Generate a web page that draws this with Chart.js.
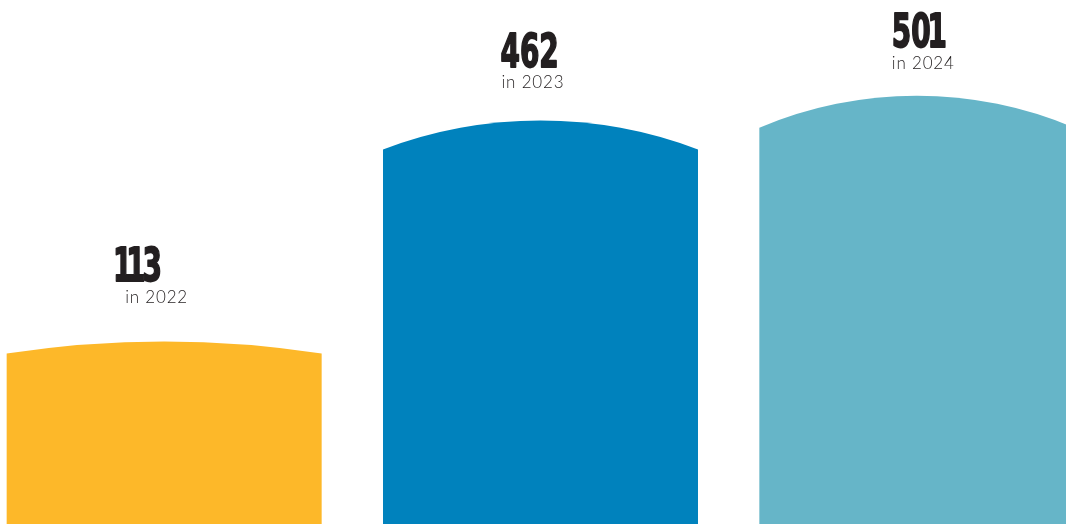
<!DOCTYPE html>
<html>
<head>
<meta charset="utf-8">
<script src="https://cdn.jsdelivr.net/npm/chart.js@4/dist/chart.umd.min.js"></script>
<style>
  html, body { margin: 0; padding: 0; background: #ffffff; overflow: hidden; }
  body { width: 1066px; height: 524px; position: relative; }
  #wrap { position: absolute; left: -24px; top: 0; width: 1129px; height: 524px; }
</style>
</head>
<body>
<div id="wrap"><canvas id="chart"></canvas></div>
<script>
// Yearly totals
const years = ['2022', '2023', '2024'];
const totals = [113, 462, 501];

// Value axis window (bars rise from the bottom edge)
const Y_MIN = -175;
const Y_MAX = 652;

// Look of each column
const barColors = ['#FDB829', '#0082BD', '#66B5C8'];
const archDepth = [12, 29, 32];        // how far the rounded cap bulges, px
const numberDx = [-48, -40, -25];      // label placement relative to column centre
const captionDx = [-39, -39, -25];
const captionLift = [39, 32, 27];      // caption baseline above the cap's crown

const TEXT_COLOR = '#231F20';
const NUM_FONT = 'bold 47px "Liberation Sans Narrow", "DejaVu Sans Condensed", sans-serif';
const NUM_SQUEEZE = 0.66;

// Heavy condensed headline figure; the "1" gets a narrow advance like a display face
function drawFigure(ctx, text, x, y) {
  ctx.save();
  ctx.translate(x, y);
  ctx.scale(NUM_SQUEEZE, 1);
  ctx.font = NUM_FONT;
  ctx.lineWidth = 1.8;
  ctx.lineJoin = 'round';
  ctx.strokeStyle = TEXT_COLOR;
  let cx = 0;
  for (const ch of text) {
    const w = ctx.measureText(ch).width;
    const narrow = ch === '1';
    const shift = narrow ? -w * 0.16 : 0;
    ctx.fillText(ch, cx + shift, 0);
    ctx.strokeText(ch, cx + shift, 0);
    cx += narrow ? w * 0.68 : w;
  }
  ctx.restore();
}

const archedBars = {
  id: 'archedBars',
  beforeDatasetDraw(chart, args) {
    const ctx = chart.ctx;
    const meta = args.meta;
    meta.data.forEach((el, i) => {
      const p = el.getProps(['x', 'y', 'base', 'width'], true);
      const h = p.width / 2;
      const d = archDepth[i];
      const R = (h * h + d * d) / (2 * d);
      const cy = p.y + R;
      const a1 = Math.atan2(d - R, -h);
      const a2 = Math.atan2(d - R, h);
      ctx.save();
      ctx.fillStyle = barColors[i];
      ctx.beginPath();
      ctx.moveTo(p.x - h, p.base);
      ctx.lineTo(p.x - h, p.y + d);
      ctx.arc(p.x, cy, R, a1, a2, false);
      ctx.lineTo(p.x + h, p.base);
      ctx.closePath();
      ctx.fill();
      ctx.restore();
    });
    return false;
  },
  afterDatasetsDraw(chart) {
    const ctx = chart.ctx;
    const meta = chart.getDatasetMeta(0);
    meta.data.forEach((el, i) => {
      const p = el.getProps(['x', 'y'], true);
      const capY = p.y - captionLift[i];
      ctx.save();
      ctx.fillStyle = TEXT_COLOR;
      ctx.textAlign = 'left';
      ctx.textBaseline = 'alphabetic';
      ctx.font = '300 17px Lato, "Open Sans", sans-serif';
      ctx.letterSpacing = '0.8px';
      ctx.fillText('in ' + years[i], p.x + captionDx[i], capY);
      ctx.letterSpacing = '0px';
      drawFigure(ctx, String(totals[i]), p.x + numberDx[i], capY - 21.5);
      ctx.restore();
    });
  }
};

new Chart(document.getElementById('chart'), {
  type: 'bar',
  data: {
    labels: years,
    datasets: [{
      data: totals,
      base: Y_MIN,
      backgroundColor: barColors,
      barPercentage: 0.837,
      categoryPercentage: 1
    }]
  },
  options: {
    responsive: true,
    maintainAspectRatio: false,
    animation: false,
    layout: { padding: 0 },
    plugins: { legend: { display: false }, tooltip: { enabled: false } },
    scales: {
      x: { display: false, offset: true },
      y: { display: false, min: Y_MIN, max: Y_MAX }
    }
  },
  plugins: [archedBars]
});
</script>
</body>
</html>
